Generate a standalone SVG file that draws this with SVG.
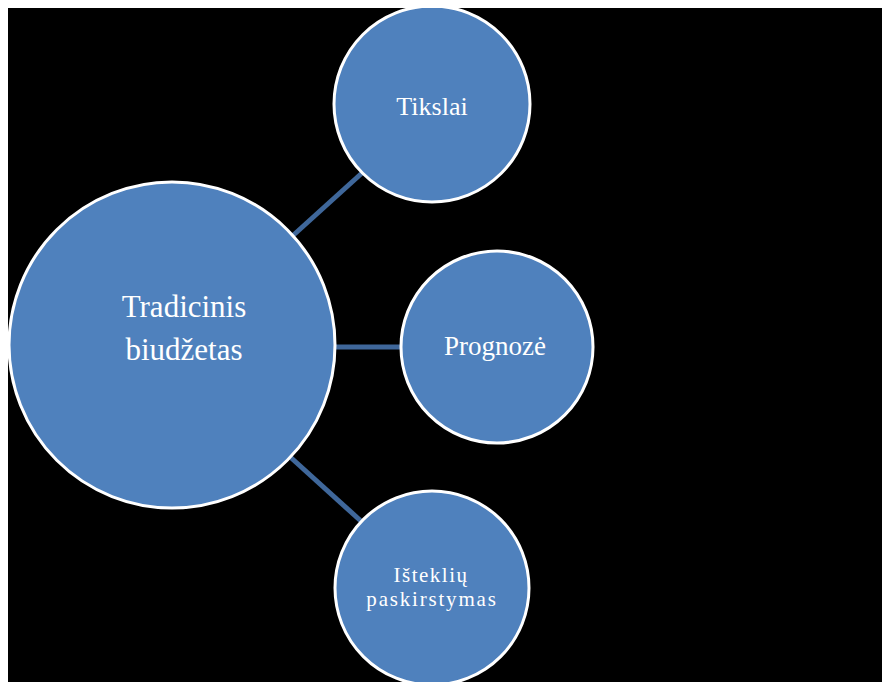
<svg xmlns="http://www.w3.org/2000/svg" width="882" height="682" viewBox="0 0 882 682">
  <style>
    .node { fill: #4F81BD; stroke: #FFFFFF; stroke-width: 3; }
    .link { stroke: #3F679A; stroke-width: 5; fill: none; }
    .label { fill: #FFFFFF; font-family: "Liberation Serif", "Times New Roman", serif; text-anchor: middle; }
  </style>
  <defs>
    <clipPath id="canvas">
      <rect x="8" y="8" width="874" height="674"/>
    </clipPath>
  </defs>
  <rect x="0" y="0" width="882" height="682" fill="#FFFFFF"/>
  <rect x="8" y="8" width="874" height="674" fill="#000000"/>

  <g clip-path="url(#canvas)">
    <g id="connectors">
      <line class="link" x1="288" y1="240" x2="362" y2="173"/>
      <line class="link" x1="330" y1="347" x2="404" y2="347"/>
      <line class="link" x1="288" y1="455" x2="362" y2="522"/>
    </g>

    <g id="node-tradicinis">
      <circle class="node" cx="172" cy="345" r="163"/>
      <text class="label" x="184" y="317" font-size="31">Tradicinis</text>
      <text class="label" x="184" y="360" font-size="31">biudžetas</text>
    </g>

    <g id="node-tikslai">
      <circle class="node" cx="432" cy="104" r="98"/>
      <text class="label" x="432" y="115" font-size="26">Tikslai</text>
    </g>

    <g id="node-prognoze">
      <circle class="node" cx="497" cy="347" r="96"/>
      <text class="label" x="495" y="355" font-size="27">Prognozė</text>
    </g>

    <g id="node-istekliu">
      <circle class="node" cx="432" cy="588" r="97"/>
      <text class="label" x="431" y="582" font-size="21" letter-spacing="1.5">Išteklių</text>
      <text class="label" x="432" y="606" font-size="21" letter-spacing="1.8">paskirstymas</text>
    </g>
  </g>
</svg>
